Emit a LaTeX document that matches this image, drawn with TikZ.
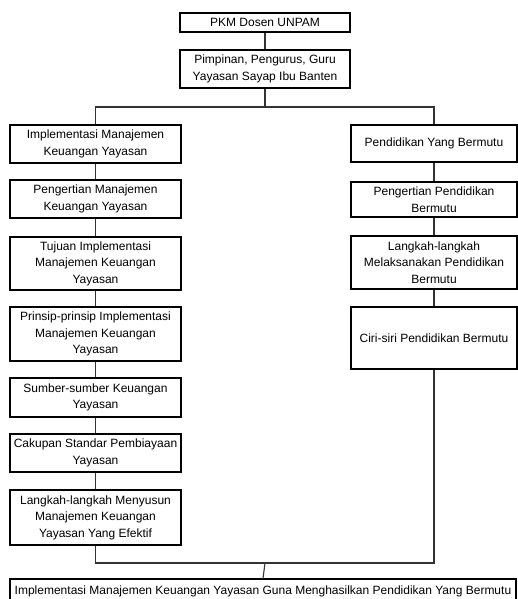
\documentclass[tikz,border=0pt]{standalone}
\usepackage{fontspec}
\setmainfont{Liberation Sans}
\begin{document}
\begin{tikzpicture}[x=1pt,y=-1pt,
  box/.style={draw=black,line width=1.1pt,align=center,inner sep=0pt,
    font=\fontsize{12}{16.5}\selectfont},
  lbox/.style={box,minimum width=171pt},
  rbox/.style={box,minimum width=166pt},
  conn/.style={draw=black!80,line width=1.1pt}]
\useasboundingbox (0,0) rectangle (518,599);
\clip (0,0) rectangle (518,599);
\node[box,minimum width=170pt,minimum height=19pt] (pkm) at (265,22.5) {PKM Dosen UNPAM};
\node[box,minimum width=170pt,minimum height=38pt] (pim) at (265,69) {Pimpinan, Pengurus, Guru\\Yayasan Sayap Ibu Banten};
\node[lbox,minimum height=38pt] (l1) at (95.5,144) {Implementasi Manajemen\\Keuangan Yayasan};
\node[lbox,minimum height=38pt] (l2) at (95.5,199) {Pengertian Manajemen\\Keuangan Yayasan};
\node[lbox,minimum height=53pt] (l3) at (95.5,263.5) {Tujuan Implementasi\\Manajemen Keuangan\\Yayasan};
\node[lbox,minimum height=54pt] (l4) at (95.5,334) {Prinsip-prinsip Implementasi\\Manajemen Keuangan\\Yayasan};
\node[lbox,minimum height=39pt] (l5) at (95.5,397.5) {Sumber-sumber Keuangan\\Yayasan};
\node[lbox,minimum height=38pt] (l6) at (95.5,453) {Cakupan Standar Pembiayaan\\Yayasan};
\node[lbox,minimum height=55pt] (l7) at (95.5,517.5) {Langkah-langkah Menyusun\\Manajemen Keuangan\\Yayasan Yang Efektif};
\node[rbox,minimum height=37pt] (r1) at (434,143.5) {Pendidikan Yang Bermutu};
\node[rbox,minimum height=35pt] (r2) at (434,199.5) {Pengertian Pendidikan\\Bermutu};
\node[rbox,minimum height=53pt] (r3) at (434,262.5) {Langkah-langkah\\Melaksanakan Pendidikan\\Bermutu};
\node[rbox,minimum height=62pt] (r4) at (434,338) {Ciri-siri Pendidikan Bermutu};
\node[box,minimum width=506pt,minimum height=24pt] (fin) at (263,591) {Implementasi Manajemen Keuangan Yayasan Guna Menghasilkan Pendidikan Yang Bermutu};
\coordinate (split) at (265,107);
\coordinate (merge) at (265,563);
\draw[conn] (pkm) -- (pim);
\draw[conn] (pim) -- (split);
\draw[conn] (l1.north) |- (split) -| (r1.north);
\draw[conn] (l1) -- (l2);
\draw[conn] (l2) -- (l3);
\draw[conn] (l3) -- (l4);
\draw[conn] (l4) -- (l5);
\draw[conn] (l5) -- (l6);
\draw[conn] (l6) -- (l7);
\draw[conn] (r1) -- (r2);
\draw[conn] (r2) -- (r3);
\draw[conn] (r3) -- (r4);
\draw[conn] (l7.south) |- (merge) -| (r4.south);
\draw[conn] (merge) -- (fin.north);
\end{tikzpicture}
\end{document}
